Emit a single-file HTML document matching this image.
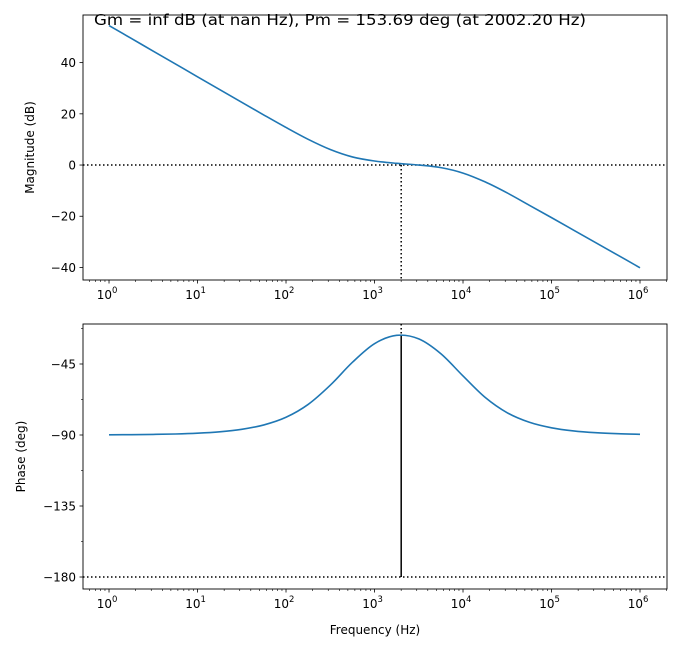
<!DOCTYPE html>
<html><head><meta charset="utf-8"><style>
html,body{margin:0;padding:0;background:#fff;}
svg{display:block;font-family:"DejaVu Sans","Liberation Sans",sans-serif;}
</style></head><body>
<svg id="c" width="681" height="652" viewBox="0 0 681 652"></svg>
<script>
const logFreq = [0,0.25,0.5,0.75,1,1.25,1.5,1.75,2,2.25,2.5,2.75,3,3.25,3.5,3.75,4,4.25,4.5,4.75,5,5.25,5.5,5.75,6];
const magnitudeDb = [54.48,49.48,44.48,39.48,34.48,29.49,24.5,19.54,14.67,10.05,6.07,3.17,1.58,0.67,-0.01,-1.01,-3.14,-6.59,-10.91,-15.71,-20.54,-25.43,-30.33,-35.22,-40.12];
const phaseDeg = [-89.88,-89.79,-89.62,-89.36,-88.86,-87.97,-86.39,-83.61,-78.77,-70.64,-58.45,-43.95,-32.13,-26.84,-29.1,-38.52,-52.58,-66.17,-75.93,-81.95,-85.45,-87.44,-88.56,-89.19,-89.55];
const magTicks = [-40,-20,0,20,40];
const phaseTicks = [-45,-90,-135,-180];
const phaseMinor = [-22.5,-67.5,-112.5,-157.5];
const decades = [0,1,2,3,4,5,6];
const crossoverLogF = Math.log10(2002.20);
const phaseAtCross = -26.31;

const NS="http://www.w3.org/2000/svg";
const svg=document.getElementById('c');
function mk(t,a,p){const e=document.createElementNS(NS,t);for(const k in a)e.setAttribute(k,a[k]);(p||svg).appendChild(e);return e;}
const L=83,R=667;
const x=v=>L+(v-(-0.294))/(6.305-(-0.294))*(R-L);
const T1=15,B1=280,T2=324,B2=589;
const y1=v=>T1+(58.6-v)/(58.6-(-44.9))*(B1-T1);
const y2=v=>T2+(-19.65-v)/(-19.65-(-187.6))*(B2-T2);

function axes(T,B,yf,ticks,minor,label,name,lx){
  const g=mk('g',{});
  
  
  decades.forEach(d=>{
    mk('line',{x1:x(d),x2:x(d),y1:B,y2:B+3.5,stroke:'#000','stroke-width':0.8},g);
    const t=mk('text',{x:x(d)+3,y:B+19,'font-size':12,'text-anchor':'end'},g);
    
    
    t.textContent='10';
    const s=mk('text',{x:x(d)+3,y:B+13,'font-size':8.5},g);s.textContent=String(d);
    for(let m=2;m<10;m++){const lv=d+Math.log10(m);if(lv<6.305)mk('line',{x1:x(lv),x2:x(lv),y1:B,y2:B+2,stroke:'#000','stroke-width':0.6},g);}
    if(d===0){for(let m=6;m<10;m++){const lv=-1+Math.log10(m);if(lv>-0.294)mk('line',{x1:x(lv),x2:x(lv),y1:B,y2:B+2,stroke:'#000','stroke-width':0.6},g);}}
  });
  ticks.forEach(v=>{
    mk('line',{x1:L-3.5,x2:L,y1:yf(v),y2:yf(v),stroke:'#000','stroke-width':0.8},g);
    const t=mk('text',{x:L-7,y:yf(v)+4.5,'font-size':12,'text-anchor':'end'},g);
    
    
    t.textContent=v<0?'\u2212'+(-v):String(v);
  });
  minor.forEach(v=>mk('line',{x1:L-2,x2:L,y1:yf(v),y2:yf(v),stroke:'#000','stroke-width':0.6},g));
  const yl=mk('text',{x:0,y:0,'font-size':12,'text-anchor':'middle',transform:`translate(${lx},${(T+B)/2}) rotate(-90)`},g);
  
  
  yl.textContent=label;
  return g;
}
axes(T1,B1,y1,magTicks,[],'Magnitude (dB)','magnitude-axes',34);
axes(T2,B2,y2,phaseTicks,phaseMinor,'Phase (deg)','phase-axes',25);

const r1=mk('line',{x1:L,x2:R,y1:y1(0),y2:y1(0),stroke:'#000','stroke-width':1.5,'stroke-dasharray':'1.5,2.5'});

const v1=mk('line',{x1:x(crossoverLogF),x2:x(crossoverLogF),y1:y1(0),y2:B1,stroke:'#000','stroke-width':1.5,'stroke-dasharray':'1.5,2.5'});

const r2=mk('line',{x1:L,x2:R,y1:y2(-180),y2:y2(-180),stroke:'#000','stroke-width':1.5,'stroke-dasharray':'1.5,2.5'});

const v2=mk('line',{x1:x(crossoverLogF),x2:x(crossoverLogF),y1:T2,y2:y2(phaseAtCross),stroke:'#000','stroke-width':1.5,'stroke-dasharray':'1.5,2.5'});

const pm=mk('line',{x1:x(crossoverLogF),x2:x(crossoverLogF),y1:y2(phaseAtCross),y2:y2(-180),stroke:'#000','stroke-width':1.5});


function curve(vals,yf,name){
  let d='';
  for(let i=0;i<logFreq.length-1;i++){
    const p0=i>0?i-1:i,p3=i+2<logFreq.length?i+2:i+1;
    const X=k=>x(logFreq[k]),Y=k=>yf(vals[k]);
    if(i===0)d+=`M${X(0)},${Y(0)}`;
    const c1x=X(i)+(X(i+1)-X(p0))/6,c1y=Y(i)+(Y(i+1)-Y(p0))/6;
    const c2x=X(i+1)-(X(p3)-X(i))/6,c2y=Y(i+1)-(Y(p3)-Y(i))/6;
    d+=` C${c1x},${c1y} ${c2x},${c2y} ${X(i+1)},${Y(i+1)}`;
  }
  const p=mk('path',{d:d,fill:'none',stroke:'#1f77b4','stroke-width':1.6});
  
  
}
curve(magnitudeDb,y1,'magnitude-line');
curve(phaseDeg,y2,'phase-line');

const f1=mk('rect',{x:L,y:T1,width:R-L,height:B1-T1,fill:'none',stroke:'#000','stroke-width':0.9});

const f2=mk('rect',{x:L,y:T2,width:R-L,height:B2-T2,fill:'none',stroke:'#000','stroke-width':0.9});


const xt=mk('text',{x:(L+R)/2,y:634,'font-size':12,'text-anchor':'middle'});

xt.textContent='Frequency (Hz)';
const tt=mk('text',{x:94,y:25,'font-size':15.5,textLength:492,lengthAdjust:'spacingAndGlyphs'});

tt.textContent='Gm = inf dB (at nan Hz), Pm = 153.69 deg (at 2002.20 Hz)';
</script>
</body></html>
